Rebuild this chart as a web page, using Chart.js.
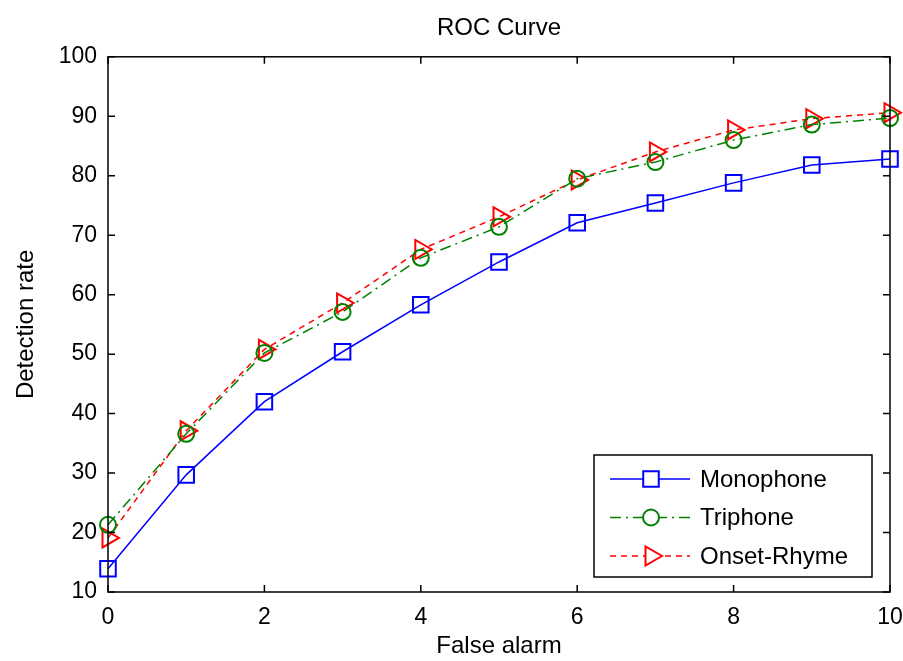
<!DOCTYPE html>
<html>
<head>
<meta charset="utf-8">
<script src="https://cdn.jsdelivr.net/npm/chart.js@4.4.1/dist/chart.umd.min.js"></script>
<style>
  html, body { margin: 0; padding: 0; background: #fff; }
  #wrap { width: 903px; height: 661px; }
</style>
</head>
<body>
<div id="wrap"><canvas id="roc"></canvas></div>
<script>
// values
var falseAlarm = [0, 1, 2, 3, 4, 5, 6, 7, 8, 9, 10];
var monophone  = [13.9, 29.7, 42.0, 50.4, 58.3, 65.5, 72.1, 75.4, 78.8, 81.8, 82.8];
var triphone   = [21.3, 36.6, 50.2, 57.1, 66.2, 71.4, 79.5, 82.3, 86.0, 88.6, 89.7];
var onsetRhyme = [19.1, 37.1, 50.8, 58.6, 67.6, 73.1, 79.3, 84.0, 87.7, 89.6, 90.6];
var xTicks = [0, 2, 4, 6, 8, 10];
var yTicks = [10, 20, 30, 40, 50, 60, 70, 80, 90, 100];

var FONT = '"Liberation Sans", Arial, Helvetica, sans-serif';

function pts(ys) {
    return falseAlarm.map(function(x, i) { return {x: x, y: ys[i]}; });
}

// box frame + inward ticks on all four sides (matlab look)
var framePlugin = {
    id: 'frame',
    afterDatasetsDraw: function(chart) {
        var ctx = chart.ctx, a = chart.chartArea;
        var xs = chart.scales.x, ys = chart.scales.y;
        var len = 7;
        ctx.save();
        ctx.strokeStyle = '#000';
        ctx.lineWidth = 1.5;
        ctx.strokeRect(a.left, a.top, a.right - a.left, a.bottom - a.top);
        ctx.beginPath();
        xTicks.forEach(function(v) {
            var px = xs.getPixelForValue(v);
            ctx.moveTo(px, a.bottom); ctx.lineTo(px, a.bottom - len);
            ctx.moveTo(px, a.top); ctx.lineTo(px, a.top + len);
        });
        yTicks.forEach(function(v) {
            var py = ys.getPixelForValue(v);
            ctx.moveTo(a.left, py); ctx.lineTo(a.left + len, py);
            ctx.moveTo(a.right, py); ctx.lineTo(a.right - len, py);
        });
        ctx.stroke();
        ctx.restore();
    }
};

// legend box with line + marker samples, lower right inside the axes
var legendPlugin = {
    id: 'matlabLegend',
    afterDraw: function(chart) {
        var ctx = chart.ctx, a = chart.chartArea;
        var w = 278, h = 122;
        var bx = a.right - 18 - w, by = a.bottom - 15 - h;
        ctx.save();
        ctx.fillStyle = '#fff';
        ctx.fillRect(bx, by, w, h);
        ctx.strokeStyle = '#000';
        ctx.lineWidth = 1.5;
        ctx.strokeRect(bx, by, w, h);
        chart.data.datasets.forEach(function(ds, i) {
            var cy = by + 24 + i * 38.5;
            ctx.strokeStyle = ds.borderColor;
            ctx.lineWidth = ds.borderWidth;
            ctx.setLineDash(ds.borderDash || []);
            ctx.beginPath();
            ctx.moveTo(bx + 16, cy);
            ctx.lineTo(bx + 96, cy);
            ctx.stroke();
            ctx.setLineDash([]);
            ctx.fillStyle = '#fff';
            ctx.strokeStyle = ds.pointBorderColor;
            ctx.lineWidth = ds.pointBorderWidth;
            Chart.helpers.drawPoint(ctx, {
                pointStyle: ds.pointStyle,
                rotation: ds.pointRotation || 0,
                radius: ds.pointRadius,
                borderWidth: ds.pointBorderWidth
            }, bx + 57, cy);
            ctx.fillStyle = '#000';
            ctx.font = '24px ' + FONT;
            ctx.textAlign = 'left';
            ctx.textBaseline = 'middle';
            ctx.fillText(ds.label, bx + 106, cy + 1);
        });
        ctx.restore();
    }
};

new Chart(document.getElementById('roc').getContext('2d'), {
    type: 'line',
    data: {
        datasets: [{
            label: 'Monophone',
            data: pts(monophone),
            borderColor: '#0000ff',
            borderWidth: 1.5,
            pointStyle: 'rect',
            pointRadius: 11,
            pointBorderWidth: 2,
            pointBorderColor: '#0000ff',
            pointBackgroundColor: 'transparent',
            clip: false
        }, {
            label: 'Triphone',
            data: pts(triphone),
            borderColor: '#008000',
            borderWidth: 1.5,
            borderDash: [11, 5, 2, 5],
            pointStyle: 'circle',
            pointRadius: 8,
            pointBorderWidth: 2,
            pointBorderColor: '#008000',
            pointBackgroundColor: 'transparent',
            clip: false
        }, {
            label: 'Onset-Rhyme',
            data: pts(onsetRhyme),
            borderColor: '#ff0000',
            borderWidth: 1.5,
            borderDash: [6, 5],
            pointStyle: 'triangle',
            pointRotation: 90,
            pointRadius: 11,
            pointBorderWidth: 2,
            pointBorderColor: '#ff0000',
            pointBackgroundColor: 'transparent',
            clip: false
        }]
    },
    options: {
        responsive: true,
        maintainAspectRatio: false,
        animation: false,
        layout: { padding: { top: 0, right: 0, bottom: 0, left: 0 } },
        plugins: {
            legend: { display: false },
            tooltip: { enabled: false },
            title: {
                display: true,
                fullSize: false,
                text: 'ROC Curve',
                color: '#000',
                font: { family: FONT, size: 24, weight: 'normal' },
                padding: { top: 14, bottom: 14 }
            }
        },
        scales: {
            x: {
                type: 'linear',
                min: 0,
                max: 10,
                grid: { display: false },
                border: { display: false },
                ticks: {
                    stepSize: 2,
                    padding: 4,
                    color: '#000',
                    maxRotation: 0,
                    font: { family: FONT, size: 23 }
                },
                title: {
                    display: true,
                    text: 'False alarm',
                    color: '#000',
                    font: { family: FONT, size: 24 },
                    padding: { top: 0, bottom: 0 }
                },
                afterFit: function(scale) {
                    scale.height = 69;
                    scale.paddingLeft = 0;
                    scale.paddingRight = 13;
                }
            },
            y: {
                min: 10,
                max: 100,
                grid: { display: false },
                border: { display: false },
                ticks: {
                    stepSize: 10,
                    padding: 3,
                    color: '#000',
                    font: { family: FONT, size: 23 }
                },
                title: {
                    display: true,
                    text: 'Detection rate',
                    color: '#000',
                    font: { family: FONT, size: 24 },
                    padding: { top: 12, bottom: 0 }
                },
                afterFit: function(scale) { scale.width = 108; }
            }
        }
    },
    plugins: [framePlugin, legendPlugin]
});
</script>
</body>
</html>
